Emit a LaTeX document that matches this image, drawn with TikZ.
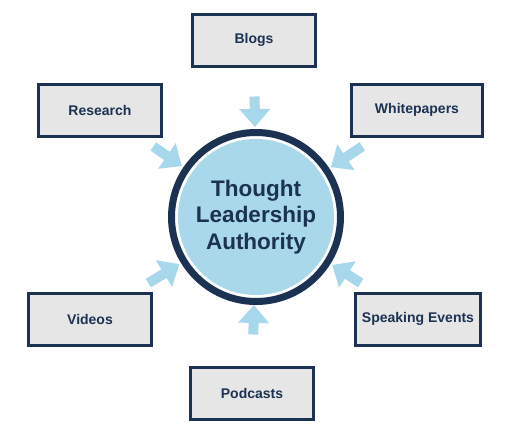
\documentclass[tikz,border=0pt]{standalone}
\usepackage{fontspec}
\setmainfont{Liberation Sans}
\usetikzlibrary{arrows.meta}
\definecolor{navy}{RGB}{27,50,82}
\definecolor{boxgray}{RGB}{230,230,230}
\definecolor{hubblue}{RGB}{168,216,234}
\definecolor{feedblue}{RGB}{167,215,235}

\begin{document}
\begin{tikzpicture}[x=1pt,y=-1pt,
    channel/.style={draw=navy,line width=3pt,fill=boxgray,
      minimum width=123pt,minimum height=52pt,
      font=\fontsize{14}{16}\selectfont\bfseries,text=navy},
    ring/.style={circle,draw=navy,line width=7pt,fill=white,
      minimum size=169pt,inner sep=0pt},
    hub/.style={circle,fill=hubblue,minimum size=156pt,inner sep=0pt,
      align=center,text=navy,
      font=\fontsize{22.5}{26.7}\selectfont\bfseries},
    feed/.style={draw=feedblue,line width=10pt,
      -{Triangle[length=18pt,width=30pt]}}]
  \useasboundingbox (0,0) rectangle (509,439);

  % centre
  \node[ring] (ring) at (256,217) {};
  \node[hub] (hub) at (256,217) {Thought\\Leadership\\Authority};

  % channels
  \node[channel] (blogs) at (254,40) {Blogs};
  \node[channel] (research) at (100,110) {Research};
  \node[channel,minimum width=131pt] (whitepapers) at (417,110) {Whitepapers};
  \node[channel] (videos) at (90,319) {Videos};
  \node[channel,minimum width=125pt] (speaking) at (418,319) {Speaking Events};
  \node[channel] (podcasts) at (252,393) {Podcasts};

  % arrows into the centre
  \draw[feed,shorten <=29pt,shorten >=2pt] (blogs) -- (ring);
  \draw[feed,shorten <=31pt,shorten >=0pt] (podcasts) -- (ring);
  \draw[feed,shorten <=16pt,shorten >=2pt] (research) -- (ring);
  \draw[feed,shorten <=16pt,shorten >=2pt] (whitepapers) -- (ring);
  \draw[feed,shorten <=16pt,shorten >=2pt] (videos) -- (ring);
  \draw[feed,shorten <=16pt,shorten >=2pt] (speaking) -- (ring);
\end{tikzpicture}
\end{document}
